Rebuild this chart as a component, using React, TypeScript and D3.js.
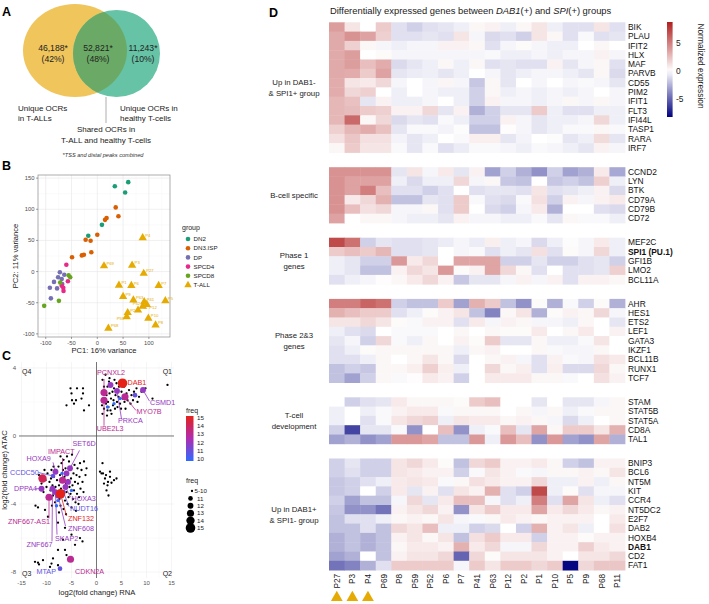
import React from 'react';
import * as d3 from 'd3';

const FONT = "'Liberation Sans', Arial, Helvetica, sans-serif";

// ---------------- Panel A (Venn) ----------------
const vennCounts = ['46,188*', '52,821*', '11,243*'];
const vennPercents = ['(42%)', '(48%)', '(10%)'];

// ---------------- Panel B (PCA) ----------------
const pcaGroups = ['DN2', 'DN3.ISP', 'DP', 'SPCD4', 'SPCD8', 'T-ALL'];
const pcaColors = ['#1B9E77', '#D95F02', '#7570B3', '#E7298A', '#66A61E', '#E6AB02'];
const pcaDN2: [number, number][] = [[34, 137], [60, 143.5], [54, 127], [9, 75], [-17.5, 57.6]];
const pcaDN3: [number, number][] = [[35.7, 103], [41, 88.7], [18, 86], [15, 83], [0, 59], [-22.6, 51], [-13, 49.5], [-11.6, 31], [-30, 26], [-26, 27], [-49, 23]];
const pcaDP: [number, number][] = [[-72.6, -1], [-64, -5], [-76, -9], [-84, -16.6], [-69, -12], [-78, -27], [-92, -26], [-90, -43], [-68, -20]];
const pcaSPCD4: [number, number][] = [[-60, 11], [-57, -15.5], [-66, -26], [-65.5, -31], [-69, -22.6]];
const pcaSPCD8: [number, number][] = [[-55.6, -6], [-52.5, -9], [-72, -17.7], [-103, -55], [-74.5, -47]];
const tallNames = ['P4', 'P69', 'P3', 'P27', 'P1', 'P6', 'P7', 'P9', 'P63', 'P5', 'P41', 'P12', 'P52', 'P11', 'P2', 'P59', 'P10', 'P8', 'P68'];
const tallX = [88, 13, 67.5, 90, 42, 66, 119, 50, 70, 132, 91, 96, 88, 79, 59, 57, 99, 113, 21.5];
const tallY = [54, 9, 10, -3, -22, -22.6, -22.6, -40, -45.6, -47, -48.5, -53, -56, -62, -66, -72.6, -75, -86, -91];
// label placement: 1 = upper right, 2 = lower right, -1 = lower left, -2 = upper left
const tallSide = [1, 1, 1, 1, 1, 1, 1, 1, 1, 1, 1, 2, -2, 1, 1, -1, 1, 1, 1];
const pcaXTicks = [-100, -50, 0, 50, 100];
const pcaYTicks = [-100, -50, 0, 50, 100, 150];

// ---------------- Panel C (RNA vs ATAC) ----------------
const cQ1: [number, number][] = [[1.2, 3.3], [1.8, 3.6], [2.2, 2.9], [2.5, 3.2], [3, 3.0], [3.5, 2.8], [4, 3.1], [4.5, 2.9], [5, 2.6], [5.5, 2.9], [6, 2.5], [6.5, 2.7], [7, 2.4], [7.5, 2.6], [8, 2.8], [8.5, 2.3], [9, 2.6], [9.8, 2.8], [11.2, 2.2], [14.2, 3.0], [1.3, 2.6], [1.6, 2.2], [2, 2.4], [2.3, 2.0], [2.6, 2.5], [2.9, 2.2], [3.2, 2.6], [3.4, 2.1], [3.8, 2.4], [4.1, 2.0], [4.4, 2.3], [4.7, 1.9], [5.2, 2.2], [5.6, 2.0], [6.2, 2.1], [6.8, 1.9], [7.3, 2.1], [1.1, 1.8], [1.5, 1.6], [1.9, 1.9], [2.4, 1.7], [2.8, 1.5], [3.3, 1.8], [3.7, 1.6], [4.2, 1.7], [4.9, 1.6], [1.2, 1.3], [2.1, 1.2], [3.0, 1.3], [2.6, 3.4], [3.6, 3.3], [1.5, 2.9], [5.8, 1.6], [2.2, 1.5], [8.2, 2.0]];
const cQ4: [number, number][] = [[-5.2, 2.8], [-3.9, 2.8], [-2.7, 2.8], [-5.0, 2.5], [-2.7, 2.5], [-4.9, 2.1], [-4.1, 2.1], [-3.0, 2.2], [-6.0, 1.8], [-4.5, 1.9], [-2.5, 1.5], [-1.5, 1.8]];
const cQ2: [number, number][] = [[0.7, -2.1], [1.3, -2.2], [1.9, -2.3], [1.7, -2.5], [2.7, -2.4], [4, -2.5], [2.3, -2.7], [3, -2.75], [2, -3.2], [1.5, -2.8], [2.7, -2.1], [2.2, -2.9], [3.5, -2.6], [1, -2.2], [1.2, -1.6], [2.4, -3.5]];
const cQ3: [number, number][] = [[-11.5, -2.3], [-11, -2.8], [-10.6, -3.3], [-10.2, -2.6], [-10, -3.0], [-9.8, -2.2], [-9.6, -3.6], [-9.4, -2.7], [-9.2, -3.2], [-9.0, -2.0], [-8.8, -2.9], [-8.7, -3.5], [-8.5, -2.4], [-8.3, -3.9], [-8.2, -3.0], [-8.0, -2.1], [-7.9, -2.6], [-7.8, -3.4], [-7.6, -1.8], [-7.5, -2.9], [-7.4, -3.7], [-7.3, -2.3], [-7.2, -4.1], [-7.1, -3.1], [-7.0, -1.6], [-6.9, -2.7], [-6.8, -3.5], [-6.7, -2.0], [-6.6, -4.3], [-6.5, -3.0], [-6.4, -2.4], [-6.3, -3.8], [-6.2, -1.9], [-6.1, -2.8], [-6.0, -3.3], [-5.9, -2.2], [-5.8, -4.0], [-5.7, -2.6], [-5.6, -3.6], [-5.5, -1.5], [-5.4, -3.0], [-5.3, -2.0], [-5.2, -3.4], [-5.1, -2.5], [-5.0, -4.2], [-4.9, -1.1], [-4.8, -2.9], [-4.7, -3.7], [-4.6, -2.2], [-4.5, -3.2], [-4.4, -1.7], [-4.3, -2.7], [-4.2, -3.9], [-4.0, -2.3], [-3.9, -3.4], [-3.8, -1.9], [-3.7, -2.8], [-3.5, -3.6], [-3.4, -2.4], [-3.3, -1.6], [-3.2, -3.1], [-3.0, -2.0], [-2.8, -2.7], [-2.6, -3.3], [-2.5, -1.5], [-2.2, -2.3], [-2.0, -1.9], [-12.2, -4.1], [-11.7, -4.2], [-10.3, -4.35], [-9.7, -4.75], [-7.7, -5.1], [-8.1, -2.0], [-9.1, -2.5], [-10.4, -2.0], [-6.6, -1.4], [-5.9, -1.2], [-7.2, -1.2], [-8.6, -1.8], [-4.1, -4.4], [-3.6, -4.0], [-6.1, -4.6], [-8.9, -4.1], [-7.5, -4.5]];
const cQ3low: [number, number][] = [[-2.8, -6.2], [-4.3, -6.4], [-3.3, -6.0], [-5, -5.8], [-12.3, -7.4], [-11.7, -7.45], [-11.5, -7.55], [-10.7, -7.3], [-8.7, -7.2], [-7.7, -7.6], [-9.3, -7.7], [-6, -7.0], [-7.7, -6.7], [-6.3, -6.7], [-6.7, -6.1], [-9, -7.5], [-6.3, -5.4]];
// coloured (frequent) genes: name, RNA, ATAC, freq
const cGeneNames = ['DAB1', 'PCNXL2', 'UBE2L3', 'PRKCA', 'MYO7B', 'CSMD1', '', '', '', '', '', '', 'HOXA9', 'IMPACT', 'SET6D', '', '', 'DPPA4', 'ZNF667', 'SKAP2', 'ZNF667-AS1', 'ZNF132', 'ZNF608', 'NUDT16', 'HOXA3', '', '', '', '', 'MTAP', 'CDKN2A', 'CCDC50'];
const cGeneX = [5.2, 1.5, 1.5, 4.1, 5.7, 9.3, 2.8, 7.7, 4.7, 3.5, 2.2, -10.8, -8.2, -6.8, -5.3, -6.0, -5.7, -11, -8.8, -8.2, -9.5, -7.2, -7.7, -6.6, -6.2, -5.0, -7.7, -8.0, -6.9, -7.3, -5.2, -8.7];
const cGeneY = [3.1, 2.55, 2.1, 2.65, 2.3, 2.7, 3.0, 2.4, 2.2, 1.9, 1.7, -2.5, -2.1, -2.6, -1.9, -2.2, -2.7, -3.1, -3.1, -3.3, -3.6, -3.4, -3.5, -3.3, -3.0, -3.2, -3.8, -4.1, -2.2, -7.8, -7.25, -2.35];
const cGeneFreq = [15, 13, 13, 12, 13, 12, 12, 11, 10, 10, 10, 14, 12, 13, 12, 12, 12, 12, 12, 12, 13, 15, 12, 11, 12, 10, 10, 10, 10, 11, 13, 11];
// label anchor (text start) and leader start, in data units
const cLabelX = [6.2, 0.1, 0.06, 4.3, 8.0, 10.7, 0, 0, 0, 0, 0, 0, -14, -9.7, -4.8, 0, 0, -16.5, -14, -8.3, -17.7, -5.7, -5.7, -5.3, -5.0, 0, 0, 0, 0, -12, -4.3, -17.3];
const cLabelY = [3.0, 3.6, 0.28, 0.78, 1.3, 1.85, 0, 0, 0, 0, 0, 0, -1.45, -1.05, -0.6, 0, 0, -3.25, -6.55, -6.15, -5.15, -5.0, -5.6, -4.4, -3.85, 0, 0, 0, 0, -8.1, -8.1, -2.3];
const cLeadX = [NaN, 1.5, 1.5, 5.0, 7.9, 10.6, 0, 0, 0, 0, 0, 0, -8.7, -6.8, -3.4, 0, 0, -12.3, -8.9, -7.9, -9.5, -6.0, -6.2, -5.5, -5.2, 0, 0, 0, 0, NaN, NaN, -11.6];
const cLeadY = [NaN, 3.35, 0.6, 1.0, 1.5, 2.05, 0, 0, 0, 0, 0, 0, -1.55, -1.3, -0.85, 0, 0, -3.1, -6.2, -5.8, -4.85, -4.7, -5.3, -4.15, -3.6, 0, 0, 0, 0, NaN, NaN, -2.15];
const cXTicks = [-15, -10, -5, 0, 5, 10, 15];
const cYTicks = [-8, -4, 0, 4];
const cSizeLegend = ['5-10', '11', '12', '13', '14', '15'];
const cColorLegend = [15, 14, 13, 12, 11, 10];

// ---------------- Panel D (heatmap) ----------------
const hmColumns = ['P27', 'P3', 'P4', 'P69', 'P8', 'P59', 'P52', 'P6', 'P7', 'P41', 'P63', 'P12', 'P2', 'P1', 'P10', 'P5', 'P9', 'P68', 'P11'];
const hmMarked = ['P27', 'P3', 'P4'];
const groupLabels = [['Up in DAB1-', '& SPI1+ group'], ['B-cell specific'], ['Phase 1', 'genes'], ['Phase 2&3', 'genes'], ['T-cell', 'development'], ['Up in DAB1+', '& SPI1- group']];
const boldGenes = ['SPI1 (PU.1)', 'DAB1'];

const g1Genes = ['BIK', 'PLAU', 'IFIT2', 'HLX', 'MAF', 'PARVB', 'CD55', 'PIM2', 'IFIT1', 'FLT3', 'IFI44L', 'TASP1', 'RARA', 'IRF7'];
const g1Values = [
  [3.8, 1, 0, 2, -1, -1.5, -1, -0.8, -0.5, 0.3, 0.5, -0.5, 0.3, 1, -0.5, -1, -1, 1, -1],
  [3.3, 4.2, 3.6, 1.8, -1, -1, -0.8, -1, 1, -0.3, -1.2, -1, -1.5, 1, 0.3, -1, -0.2, -1, -0.8],
  [3.3, 1.8, 0.3, -0.3, -0.5, -0.3, -0.3, 0.5, 0.5, 0.3, -1, -0.3, 0.2, -0.3, -0.5, -0.5, 0, 0.3, 0],
  [3.3, 3.8, 0, 0.2, -0.3, -0.3, -0.3, -0.3, -0.3, -0.3, -0.2, -0.5, -0.5, -0.3, -0.5, -0.3, -0.3, 0.5, -0.3],
  [3.3, 3.8, 2.5, 3.2, -1.2, -0.8, -0.5, 0.3, -0.5, 0.3, -1, -0.8, -1, -1, 0.5, -0.8, -0.3, 0.3, -1],
  [3.3, 3.2, 2, 3.6, -0.8, -0.6, -0.5, -0.8, -0.5, 0, -0.3, -0.8, -0.5, -0.3, -0.3, -0.5, -0.8, 0.3, -1.2],
  [3.2, 1, 0.8, 1.5, -0.3, 0, -0.3, 0.4, -0.3, -1.8, 0.3, -0.8, 0, -0.3, 0, -0.3, -0.2, -0.3, -0.8],
  [3.2, 1.5, 1.8, 0, -0.5, 0, -0.3, -0.5, -0.5, -1.5, 0.3, -0.5, -0.3, -0.5, -0.3, -0.5, -0.3, 0, -0.3],
  [2.8, 2.4, -0.8, 0.5, -0.5, -0.5, -0.3, 0, -0.5, -1.5, 0.5, -0.3, -0.3, -0.5, -0.3, 0.3, -0.3, 0.3, -0.3],
  [2.8, 2.6, 2, 1.8, 0.5, 0.5, 1.5, -0.8, 0.5, -2.5, -1.5, -0.8, -0.8, 2, -0.5, -1, -1, -0.5, -0.5],
  [2.8, 5.8, 0.3, 1.5, -1.2, -0.8, -1, -0.2, -0.5, -1.5, -1.5, 0.5, -0.3, -0.8, -0.5, -0.5, -0.3, 1.5, -0.5],
  [1.8, 2.8, 3.2, 2.4, -0.8, -0.2, -0.2, -0.4, -0.1, -2, -2, 0.1, -0.3, -0.8, -0.5, -0.2, -0.2, 0.3, -0.2],
  [1.2, 2.2, 1.2, 1.2, -0.4, -0.8, -0.5, 0, -0.2, 0.6, 0.6, -0.8, -0.4, 0, -0.1, -0.8, -0.5, 1.4, -0.8],
  [0.3, 2, 1, 1, -0.2, -0.8, -0.2, -1, -0.6, -0.2, -0.2, -0.3, -0.5, -0.2, -0.3, -0.5, -0.8, 0.5, -0.3],
];
const g2Genes = ['CCND2', 'LYN', 'BTK', 'CD79A', 'CD79B', 'CD72'];
const g2Values = [
  [4.2, 4.2, 4.2, 4.2, -0.8, 1, -0.3, 0.8, -0.8, 0.5, -3, -1.5, -2.5, -3.5, -1.5, -3, -2.5, 0.8, -2.8],
  [4.2, 3.6, 3.6, 3.6, -0.5, -1.2, -0.5, -0.5, 1.5, -0.3, 0.3, -1.8, -2, 0, -1.8, -1.5, -2, 1.8, -0.5],
  [4.2, 3.6, 5, 2.5, -1, -1, -1.5, -1, 0, -1, -0.8, -0.8, -1, 1, -1, -0.8, -0.5, 0.5, -1.2],
  [4.2, 0.8, 1.5, 3, -2, -2, -0.8, -1, 2, -0.2, -1, -1.2, -0.2, 1.2, -1.5, 0.5, -0.3, 0.5, 0.8],
  [4.2, 2.5, 1.2, 1.5, -0.3, -0.3, 0.3, -1, 2, 0, -1.2, -1.5, -0.3, 0.8, -2.5, 0, 0, -1, -1.2],
  [3.6, 0, 0.3, 0.3, -0.3, -0.5, -0.5, -0.8, 0.5, -0.3, -0.3, -0.5, -0.5, -0.2, -0.8, 0.3, -0.2, -0.2, -0.5],
];
const g3Genes = ['MEF2C', 'SPI1 (PU.1)', 'GFI1B', 'LMO2', 'BCL11A'];
const g3Values = [
  [7, 5.5, -1.5, -0.8, -1, -1, -0.8, -0.6, -0.3, -0.6, 0.6, -0.5, -0.3, -1.2, -0.5, -0.1, -0.3, 0.8, -0.5],
  [2, 2.5, 2, 2.8, -1, -1, -0.8, 0, -0.3, -0.2, -1, -0.5, -0.8, 1.2, -1, 0.2, -0.3, 1.5, -0.5],
  [-0.5, -0.8, -1.5, -1.5, 4, 0.8, 1.5, 0, 3.5, 3.5, 3.5, -1.5, -1.5, -0.8, -1.5, -1.5, -1, -0.8, -1.5],
  [-0.5, -0.8, -2, -2, 0.5, 1.5, 1, 4, 0.2, 0.5, 3.5, 1.5, 0.3, -1, 0, -1, -1, -0.8, 1.8],
  [-1, -0.5, -0.3, 0.1, 0.3, 0.8, 1.5, 0.5, -1.8, -0.8, -0.8, -0.3, 0.5, -0.3, 0.5, -1, 0.5, 0.5, 0.3],
];
const g4Genes = ['AHR', 'HES1', 'ETS2', 'LEF1', 'GATA3', 'IKZF1', 'BCL11B', 'RUNX1', 'TCF7'];
const g4Values = [
  [5, 5, 6, 5.5, -1.5, -2, -2, 2, -3, 3, 2, -2, -3.5, 0.2, -2.5, -0.2, -1.5, 0.2, -2.5],
  [3, 2.5, 2, 2, -1, -0.5, 0.2, 0.5, 1, -2, -4, 0.3, 1, -2.5, 0.2, 0.5, 0.3, 1.5, -0.3],
  [1, 1, 1.5, 1, 0.2, -0.2, 0.5, 0.5, -1, 0.8, -0.3, 0.5, 0.3, -0.3, -0.3, -0.5, 0.3, 0, -0.8],
  [-0.5, -1, -1.2, 0, -0.2, -0.2, -0.2, 0, 0.3, 0, 0.3, 0.2, 0.2, 0.8, 0, 0.3, 0.8, 0, 0.5],
  [-0.8, -0.3, -1.5, 1.5, -0.2, -0.5, 0.3, 0, 0.5, 0.2, 2, -0.8, -0.8, 0.3, -0.5, -0.5, -0.2, 1, 0],
  [-1, -0.5, 0.2, 0.3, 0.3, 0.3, 0.3, 0.3, -0.5, 0.3, 0.5, 0, 0, 0.3, -0.2, -0.3, -0.3, 0.3, 0],
  [-1, -1, -0.5, 0.3, 0, 0.3, 1, 0.3, -1.2, 0, 0.3, 0.5, -0.3, -1, 0.5, -0.2, -0.3, 1.2, 0.8],
  [-2, -1.5, -1.8, 0.3, 0.3, 0.6, 1.8, 0.6, -0.5, 0, 1.5, 0.3, 0.6, -1, 0.6, -1.2, -1.2, 1.5, 0.3],
  [-2, -3, -1.5, 0.3, -0.2, 0.1, 0.8, 0.5, -1.5, 0, 0.8, 0.8, 0.8, 0.3, 0.3, -0.2, 0, 1.2, 0.5],
];
const g5Genes = ['STAM', 'STAT5B', 'STAT5A', 'CD8A', 'TAL1'];
const g5Values = [
  [0, -1.5, -1, -0.8, 0.8, 0.3, 0.3, 0.3, 0.2, 2, 2.5, 0, 0, -0.8, 0, -0.8, -0.8, -0.3, 0.3],
  [-0.5, 0, -0.5, -0.2, 0.5, 0.8, 0.8, -0.2, 0.3, 0.3, 0.3, 0, 0.3, -0.3, 0.3, -0.5, -0.2, 0.3, 0.3],
  [-0.5, 0, -1, -0.2, 1, 1.5, 1.8, -0.5, 1, 0.8, 0.8, 0.3, 0.5, 0.3, -0.3, -1.2, -0.5, 0, 0.3],
  [-1.5, -6, -0.8, -0.8, -0.2, -3.5, 0, 2.5, -3.5, -0.5, -0.2, 2.5, -0.8, 3.5, 0.3, 2, 2, 1, 3],
  [-3, -2.5, -3.5, -3, 4, 4, 3.5, -2, -2, 4, -0.5, 4, 2.5, -3.5, 4, -3, -3.5, 3.5, -2.5],
];
const g6Genes = ['BNIP3', 'BCL6', 'NT5M', 'KIT', 'CCR4', 'NT5DC2', 'E2F7', 'DAB2', 'HOXB4', 'DAB1', 'CD2', 'FAT1'];
const g6Values = [
  [-1.5, -0.8, -1.5, -1.5, 1, 1.5, 0.8, 0.2, -2, 1.5, 2, 0.5, 0.5, 0.8, 0.3, -1.5, -2, 0.5, 0.5],
  [-1.5, -1, -1.5, -1.5, 1, 0.8, 0.5, 0.5, -1.5, -0.2, 1, 0.5, -0.2, -0.3, 0.3, 0.3, 0.5, 0.3, 1],
  [-1.8, -1.5, -1, -0.5, 0.8, 1, 0.8, -0.2, 0.3, 1.2, 0.8, 0.5, 0.5, 1.5, -0.5, -0.5, 0.5, -0.5, 0.3],
  [-1.8, -1.5, 0, -1.5, 0.8, -0.8, 0.5, -1, 1, 0.5, 3, -1, -1.5, 7, -0.5, 0.2, -1, -0.3, -0.3],
  [-1.5, -3, -2, -2, -0.3, 1.5, -0.8, 0.8, 2.5, 2.5, -0.3, -1, -0.5, 5, -1, 3.5, 1, -0.5, -1],
  [-1.8, -3.5, -3.5, -4.5, 0.5, 1, 1.5, 0.5, -3.5, 1, 2, 0.8, 0.8, 3.5, 0.8, 1.5, 0.8, 0.3, 0.5],
  [-2, -1, -1, -0.5, 0.3, 0.5, 0.3, 1, -0.3, -0.2, 0.3, 0.8, 0.5, 0.3, 0.5, 0.5, 0.5, 0, 0.8],
  [-2, -2, -1, -2, 1.5, 1, 2.5, -0.5, -0.5, -1.5, -1.2, 0, -1.5, 3, 0.5, 1, -0.5, 0, 1.2],
  [-2.5, -2, -2.5, -2, 0.5, 1, 0.3, 1, -2, 1.2, 2, 0.8, 0.8, -1.5, 0.5, 0.5, 0.2, 0.5, 0.5],
  [-2.5, -2, -2.5, -2, 0.3, 0.8, 0.8, 0.5, 3, 0.8, 1.5, -0.3, -0.3, 1.5, 0.5, 0.5, 1.8, 0.8, 0.5],
  [-3, -2.5, 0, -2, 0.5, 1, 1, 1.5, -5, 1.5, 0.2, 1, 1, 1, 0.5, 0, 1, 1, 1.5],
  [-4.5, -4, -2.5, -1, 2, 2, 2, 2, -0.3, 2, 1, 2, 2, 1.5, 2, -8, 1.5, 2.2, 2.2],
];
const legendTicks = [5, 0, -5];

export default function App() {
  // ---------- Panel B scales ----------
  const bx = d3.scaleLinear().domain([-115, 141]).range([38, 170]);
  const by = d3.scaleLinear().domain([-105, 155]).range([337, 175]);
  const pcaSets = [pcaDN2, pcaDN3, pcaDP, pcaSPCD4, pcaSPCD8];
  const tri = d3.symbol().type(d3.symbolTriangle).size(30)() as string;
  const triLegend = d3.symbol().type(d3.symbolTriangle).size(24)() as string;
  const triMark = d3.symbol().type(d3.symbolTriangle).size(60)() as string;

  // ---------- Panel C scales ----------
  const cx = d3.scaleLinear().domain([-15.5, 15.5]).range([19, 174]);
  const cy = d3.scaleLinear().domain([-8.35, 4.35]).range([578, 362]);
  const freqColor = d3.scaleLinear<string>().domain([10, 12.5, 15]).range(['#2F6BFF', '#B02CB0', '#E4221A']);
  const freqSize = d3.scaleLinear().domain([10, 15]).range([1.7, 4.8]);
  const blackPts = [...cQ1, ...cQ2, ...cQ3, ...cQ4, ...cQ3low];
  const colIdx = d3.range(cGeneX.length).sort((a, b) => cGeneFreq[a] - cGeneFreq[b]);
  const cbarY = d3.scaleLinear().domain([10, 15]).range([459, 418]);

  // ---------- Panel D ----------
  const colX = d3.scaleBand<string>().domain(hmColumns).range([329, 625]);
  const hmColor = d3.scaleLinear<string>().domain([-8.2, 0, 8.7]).range(['#000080', '#ffffff', '#B01E1E']);
  const rowH = 9.3, gap = 14.7, top = 22.3;
  const genesAll = [g1Genes, g2Genes, g3Genes, g4Genes, g5Genes, g6Genes];
  const valsAll = [g1Values, g2Values, g3Values, g4Values, g5Values, g6Values];
  let cum = 0;
  const groupScales = genesAll.map((genes, gi) => {
    const start = top + cum * rowH + gi * gap;
    cum += genes.length;
    return d3.scaleBand<string>().domain(genes).range([start, start + genes.length * rowH]);
  });
  const legY = d3.scaleLinear().domain([-8.2, 8.7]).range([117, 22]);
  const gradStops = d3.range(0, 1.0001, 0.05);

  return (
    <svg width={709} height={604} style={{ position: 'absolute', left: 0, top: 0, background: '#fff' }} fontFamily={FONT}>
      <defs>
        <clipPath id="yellowClip">
          <ellipse cx={75} cy={50.5} rx={52} ry={46.5} />
        </clipPath>
        <linearGradient id="hmGrad" x1="0" y1="1" x2="0" y2="0">
          {gradStops.map((t) => (
            <stop key={t} offset={t} stopColor={hmColor(-8.2 + t * 16.9)} />
          ))}
        </linearGradient>
        <linearGradient id="freqGrad" x1="0" y1="1" x2="0" y2="0">
          {gradStops.map((t) => (
            <stop key={t} offset={t} stopColor={freqColor(10 + t * 5)} />
          ))}
        </linearGradient>
      </defs>

      {/* ================= Panel A ================= */}
      <text x={2} y={16} fontSize={12.5} fontWeight="bold">A</text>
      <ellipse cx={75} cy={50.5} rx={52} ry={46.5} fill="#F0C55C" />
      <ellipse cx={116.5} cy={53.5} rx={43.5} ry={43.5} fill="#66C3A5" />
      <ellipse cx={116.5} cy={53.5} rx={43.5} ry={43.5} fill="#6BAA66" clipPath="url(#yellowClip)" />
      {[53, 98, 143].map((x, i) => (
        <g key={i}>
          <text x={x} y={51} fontSize={8.6} textAnchor="middle" fill="#222">{vennCounts[i]}</text>
          <text x={x} y={62} fontSize={8.6} textAnchor="middle" fill="#222">{vennPercents[i]}</text>
        </g>
      ))}
      <line x1={106} x2={106} y1={97} y2={123} stroke="#999" strokeWidth={0.8} />
      <text x={18} y={111} fontSize={8} fill="#222">Unique OCRs</text>
      <text x={18} y={121} fontSize={8} fill="#222">in T-ALLs</text>
      <text x={120} y={111} fontSize={8} fill="#222">Unique OCRs in</text>
      <text x={120} y={121} fontSize={8} fill="#222">healthy T-cells</text>
      <text x={106} y={132} fontSize={8} textAnchor="middle" fill="#222">Shared OCRs in</text>
      <text x={106} y={143} fontSize={8} textAnchor="middle" fill="#222">T-ALL and healthy T-cells</text>
      <text x={103} y={157} fontSize={5.6} textAnchor="middle" fontStyle="italic" fill="#333">*TSS and distal peaks combined</text>

      {/* ================= Panel B ================= */}
      <text x={2} y={170} fontSize={12.5} fontWeight="bold">B</text>
      <rect x={38} y={175} width={132} height={162} fill="#fff" />
      {[-75, -25, 25, 75, 125].map((t) => (
        <line key={'bxm' + t} x1={bx(t)} x2={bx(t)} y1={175} y2={337} stroke="#F3F3F3" strokeWidth={0.4} />
      ))}
      {[-75, -25, 25, 75, 125].map((t) => (
        <line key={'bym' + t} x1={38} x2={170} y1={by(t)} y2={by(t)} stroke="#F3F3F3" strokeWidth={0.4} />
      ))}
      {pcaXTicks.map((t) => (
        <line key={'bx' + t} x1={bx(t)} x2={bx(t)} y1={175} y2={337} stroke="#E6E6E6" strokeWidth={0.6} />
      ))}
      {pcaYTicks.map((t) => (
        <line key={'by' + t} x1={38} x2={170} y1={by(t)} y2={by(t)} stroke="#E6E6E6" strokeWidth={0.6} />
      ))}
      <rect x={38} y={175} width={132} height={162} fill="none" stroke="#8A8A8A" strokeWidth={0.7} />
      {pcaXTicks.map((t) => (
        <g key={'bxt' + t}>
          <line x1={bx(t)} x2={bx(t)} y1={337} y2={339} stroke="#444" strokeWidth={0.5} />
          <text x={bx(t)} y={344.5} fontSize={5.8} textAnchor="middle" fill="#4D4D4D">{t}</text>
        </g>
      ))}
      {pcaYTicks.map((t) => (
        <g key={'byt' + t}>
          <line x1={36} x2={38} y1={by(t)} y2={by(t)} stroke="#444" strokeWidth={0.5} />
          <text x={34.5} y={by(t) + 2} fontSize={5.8} textAnchor="end" fill="#4D4D4D">{t}</text>
        </g>
      ))}
      <text x={104} y={353} fontSize={7.6} textAnchor="middle" fill="#222">PC1: 16% variance</text>
      <text transform={`translate(18,256) rotate(-90)`} fontSize={7.6} textAnchor="middle" fill="#222">PC2: 11% variance</text>
      {pcaSets.map((pts, gi) =>
        pts.map((p, i) => (
          <circle key={gi + '-' + i} cx={bx(p[0])} cy={by(p[1])} r={2.3} fill={pcaColors[gi]} />
        ))
      )}
      {tallNames.map((n, i) => (
        <path key={'tp' + n} d={tri} transform={`translate(${bx(tallX[i])},${by(tallY[i])})`} fill={pcaColors[5]} />
      ))}
      {tallNames.map((n, i) => {
        const s = tallSide[i];
        const dx = s > 0 ? 2.5 : -2.5;
        const dy = s === 1 || s === -2 ? -1 : s === 2 ? 4.5 : 3;
        return (
          <text key={'tl' + n} x={bx(tallX[i]) + dx} y={by(tallY[i]) + dy} fontSize={4.2} textAnchor={s > 0 ? 'start' : 'end'} fill={pcaColors[5]}>{n}</text>
        );
      })}
      <text x={182} y={230} fontSize={7} fill="#222">group</text>
      {pcaGroups.map((g, i) => (
        <g key={g}>
          {i < 5 ? (
            <circle cx={188} cy={239 + i * 9.2} r={2.3} fill={pcaColors[i]} />
          ) : (
            <path d={triLegend} transform={`translate(188,${239 + i * 9.2})`} fill={pcaColors[i]} />
          )}
          <text x={193.5} y={241.2 + i * 9.2} fontSize={6.2} fill="#222">{g}</text>
        </g>
      ))}

      {/* ================= Panel C ================= */}
      <text x={2} y={360} fontSize={12.5} fontWeight="bold">C</text>
      {cXTicks.map((t) => (
        <line key={'cxg' + t} x1={cx(t)} x2={cx(t)} y1={362} y2={578} stroke="#EBEBEB" strokeWidth={0.5} />
      ))}
      {[-12.5, -7.5, -2.5, 2.5, 7.5, 12.5].map((t) => (
        <line key={'cxm' + t} x1={cx(t)} x2={cx(t)} y1={362} y2={578} stroke="#F5F5F5" strokeWidth={0.4} />
      ))}
      {cYTicks.map((t) => (
        <line key={'cyg' + t} x1={19} x2={174} y1={cy(t)} y2={cy(t)} stroke="#EBEBEB" strokeWidth={0.5} />
      ))}
      {[-6, -2, 2].map((t) => (
        <line key={'cym' + t} x1={19} x2={174} y1={cy(t)} y2={cy(t)} stroke="#F5F5F5" strokeWidth={0.4} />
      ))}
      <line x1={cx(0)} x2={cx(0)} y1={362} y2={578} stroke="#555" strokeWidth={0.8} />
      <line x1={19} x2={174} y1={cy(0)} y2={cy(0)} stroke="#555" strokeWidth={0.8} />
      {cXTicks.map((t) => (
        <text key={'cxt' + t} x={cx(t)} y={585} fontSize={6} textAnchor="middle" fill="#555">{t}</text>
      ))}
      {cYTicks.map((t) => (
        <text key={'cyt' + t} x={16} y={cy(t) + 2} fontSize={6} textAnchor="end" fill="#555">{t}</text>
      ))}
      <text x={97} y={595} fontSize={7.6} textAnchor="middle" fill="#222">log2(fold change) RNA</text>
      <text transform={`translate(7,470) rotate(-90)`} fontSize={7.6} textAnchor="middle" fill="#222">log2(fold change) ATAC</text>
      <text x={22} y={374} fontSize={7} fill="#222">Q4</text>
      <text x={172} y={374} fontSize={7} textAnchor="end" fill="#222">Q1</text>
      <text x={22} y={576} fontSize={7} fill="#222">Q3</text>
      <text x={172} y={576} fontSize={7} textAnchor="end" fill="#222">Q2</text>
      {blackPts.map((p, i) => (
        <circle key={'bp' + i} cx={cx(p[0])} cy={cy(p[1])} r={1.15} fill="#000" />
      ))}
      {colIdx.filter((i) => cGeneNames[i] && !isNaN(cLeadX[i])).map((i) => (
        <line key={'ld' + i} x1={cx(cLeadX[i])} y1={cy(cLeadY[i])} x2={cx(cGeneX[i])} y2={cy(cGeneY[i])} stroke={freqColor(cGeneFreq[i])} strokeWidth={0.8} />
      ))}
      {colIdx.map((i) => (
        <circle key={'cp' + i} cx={cx(cGeneX[i])} cy={cy(cGeneY[i])} r={freqSize(cGeneFreq[i])} fill={freqColor(cGeneFreq[i])} />
      ))}
      {colIdx.filter((i) => cGeneNames[i]).map((i) => (
        <text key={'cl' + i} x={cx(cLabelX[i])} y={cy(cLabelY[i])} fontSize={7.2} fill={freqColor(cGeneFreq[i])}>{cGeneNames[i]}</text>
      ))}
      {/* colour legend */}
      <text x={186} y={413} fontSize={7} fill="#222">freq</text>
      <rect x={186} y={416} width={7.5} height={45} fill="url(#freqGrad)" />
      {cColorLegend.map((v) => (
        <text key={'fl' + v} x={197} y={cbarY(v) + 2} fontSize={6.2} fill="#222">{v}</text>
      ))}
      {/* size legend */}
      <text x={186} y={483} fontSize={7} fill="#222">freq</text>
      {cSizeLegend.map((s, i) => {
        const f = i === 0 ? 8 : 10 + i;
        const r = i === 0 ? 1.15 : freqSize(f);
        return (
          <g key={'sl' + s}>
            <circle cx={i === 0 ? 192 : 190.5} cy={491 + i * 7.4} r={r} fill="#000" />
            <text x={i === 0 ? 194.5 : 197} y={493.2 + i * 7.4} fontSize={6.2} fill="#222">{s}</text>
          </g>
        );
      })}

      {/* ================= Panel D ================= */}
      <text x={269} y={17} fontSize={12.5} fontWeight="bold">D</text>
      <text x={330} y={14} fontSize={9.4} fill="#222">
        Differentially expressed genes between <tspan fontStyle="italic">DAB1</tspan>(+) and <tspan fontStyle="italic">SPI</tspan>(+) groups
      </text>
      {genesAll.map((genes, gi) => {
        const ys = groupScales[gi];
        const vals = valsAll[gi];
        const [y0, y1] = ys.range();
        const mid = (y0 + y1) / 2;
        const lines = groupLabels[gi];
        return (
          <g key={'grp' + gi}>
            {genes.map((gname, ri) =>
              hmColumns.map((c, ci) => (
                <rect key={gname + c} x={colX(c)} y={ys(gname)} width={colX.bandwidth() + 0.4} height={ys.bandwidth() + 0.4} fill={hmColor(vals[ri][ci])} />
              ))
            )}
            {genes.map((gname) => (
              <text key={'gl' + gname} x={628} y={(ys(gname) as number) + ys.bandwidth() / 2 + 3} fontSize={8.4} fontWeight={boldGenes.includes(gname) ? 'bold' : 'normal'} fill="#111">{gname}</text>
            ))}
            {lines.map((l, li) => (
              <text key={'gt' + li} x={294} y={mid + 2.8 + (li - (lines.length - 1) / 2) * 11} fontSize={7.8} textAnchor="middle" fill="#222">{l}</text>
            ))}
          </g>
        );
      })}
      {hmColumns.map((c) => (
        <text key={'cl' + c} transform={`translate(${(colX(c) as number) + colX.bandwidth() / 2 + 3},574) rotate(-90)`} fontSize={8.2} textAnchor="end" fill="#222">{c}</text>
      ))}
      {hmMarked.map((c) => (
        <path key={'tm' + c} d={triMark} transform={`translate(${(colX(c) as number) + colX.bandwidth() / 2},597.5)`} fill="#E6AB02" />
      ))}
      {/* heatmap legend */}
      <rect x={667} y={22} width={5.6} height={95} fill="url(#hmGrad)" />
      {legendTicks.map((t) => (
        <text key={'lt' + t} x={676} y={legY(t) + 3} fontSize={8.4} fill="#222">{t}</text>
      ))}
      <text transform={`translate(698,66) rotate(90)`} fontSize={8.4} textAnchor="middle" fill="#222">Normalized expression</text>
    </svg>
  );
}
